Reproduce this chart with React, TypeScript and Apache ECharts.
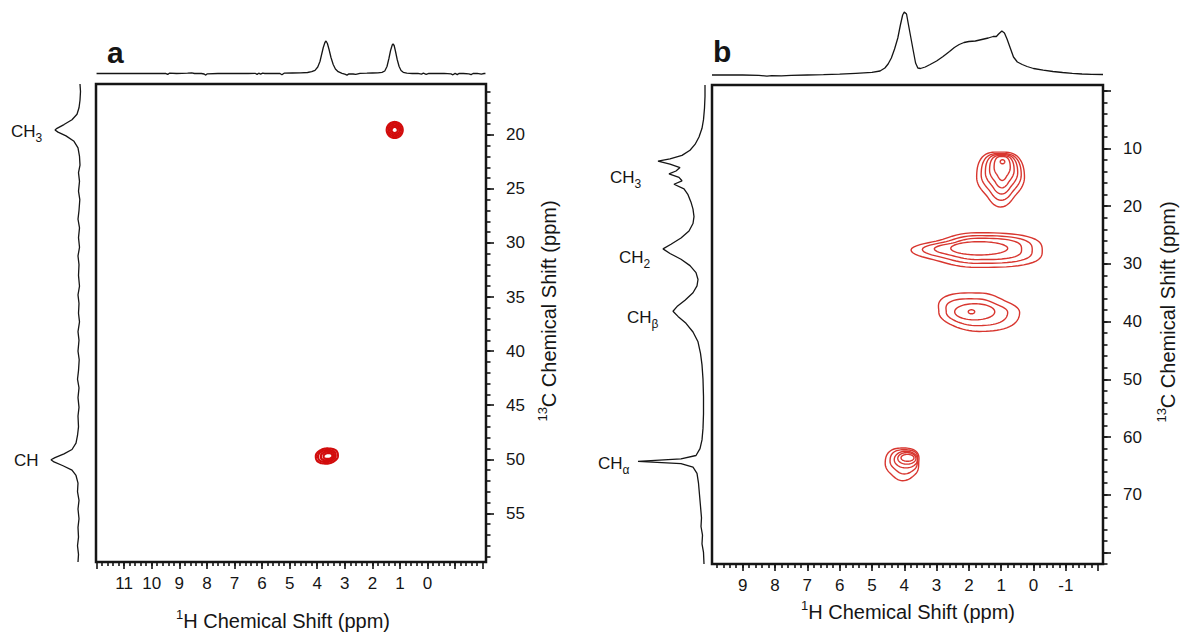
import React, { useEffect, useRef } from "react";
import * as echarts from "echarts";

const FONT = '"Liberation Sans", Arial, Helvetica, sans-serif';
const INK = "#151515";
const RED_A = "#d20c0c";
const RED_B = "#d8362f";

// ---------- Panel a ----------
const xRangeA = { min: -2.12, max: 12.02 };
const yRangeA = { min: 15.3, max: 59.5 };
const xLabelsA = [11, 10, 9, 8, 7, 6, 5, 4, 3, 2, 1, 0];
const yLabelsA = [20, 25, 30, 35, 40, 45, 50, 55];

// top 1H projection: [ppm, intensity]
const topSpecA: number[][] = [
  [12.0, 0], [11.5, 0.2], [11.0, 0], [10.5, 0.2], [10.0, 0], [9.5, 0.2], [9.42, -0.9], [9.36, 0.3], [9.1, 0],
  [8.7, 0.3], [8.55, 0.6], [8.45, 0], [8.2, 0], [8.1, -0.5], [8.05, -1.6], [7.98, -0.3], [7.6, 0], [7.0, 0.1],
  [6.5, 0], [6.25, 0.2], [6.18, -0.9], [6.12, 0.3], [6.05, -0.6], [5.98, 0.3], [5.9, 0], [5.6, 0.2], [5.35, 0],
  [5.28, -1.3], [5.2, 0.3], [4.9, 0.5], [4.6, 0.6], [4.35, 1.0], [4.2, 1.8], [4.08, 3.2], [3.98, 6.5], [3.9, 12],
  [3.84, 19], [3.78, 26], [3.72, 31], [3.68, 32.5], [3.63, 30], [3.57, 24], [3.5, 16], [3.42, 9], [3.34, 4.5],
  [3.24, 1.8], [3.1, 0.2], [3.0, -0.6], [2.92, -1.6], [2.85, -0.4], [2.7, -0.5], [2.6, -0.9], [2.45, 0.1],
  [2.2, 0.3], [2.0, 0.5], [1.8, 0.7], [1.65, 1.2], [1.55, 2.5], [1.47, 7], [1.4, 15], [1.34, 23], [1.28, 28.5],
  [1.25, 29.5], [1.21, 28], [1.16, 22], [1.1, 14], [1.03, 7], [0.96, 3], [0.88, 1.2], [0.75, 0.4], [0.55, 0],
  [0.35, 0.2], [0.22, -0.7], [0.15, 0.3], [0.05, -0.8], [-0.05, 0.2], [-0.3, 0], [-0.6, 0.2], [-0.85, -0.4],
  [-0.92, -1.3], [-1.0, 0.1], [-1.08, -1.1], [-1.15, 0.2], [-1.3, 0], [-1.5, -0.3], [-1.58, -1.1], [-1.65, 0],
  [-1.8, 0.2], [-1.95, -0.6], [-2.05, 0], [-2.1, 0],
];

// left 13C projection: [intensity, ppm]
const leftSpecA: number[][] = [
  [1, 15.3], [0.5, 16.0], [1, 16.8], [2, 17.5], [4, 18.1], [9, 18.6], [17, 19.05], [24, 19.4], [26, 19.55],
  [23, 19.75], [15, 20.1], [7, 20.6], [3, 21.2], [1.5, 22], [1, 22.8], [2.5, 23.5], [1.5, 24.3], [2.5, 25.2],
  [1.2, 26], [2, 27], [3, 27.8], [1.5, 28.6], [2.5, 29.5], [1.5, 30.4], [3, 31.2], [2, 32], [2.5, 33], [1.5, 34],
  [3, 34.8], [2, 35.6], [2.5, 36.5], [1.5, 37.3], [3, 38.2], [2, 39], [3, 40], [1.8, 40.8], [2.5, 41.8],
  [3.5, 42.6], [2, 43.4], [3, 44.3], [2, 45.2], [3, 46], [2.5, 47], [3.5, 47.8], [5, 48.5], [9, 49.1],
  [17, 49.5], [26, 49.85], [30, 50.05], [27, 50.25], [18, 50.6], [9, 51.0], [5, 51.5], [3, 52.2], [3.5, 53],
  [2, 53.8], [3, 54.6], [2, 55.5], [3, 56.3], [2.5, 57.2], [3.5, 58], [2.5, 58.8], [3, 59.5],
];

// contour outline shapes: radius factors at 8 screen directions (right, down-right, down, down-left, left, up-left, up, up-right)
const shapes: number[][] = [
  [1, 1, 1, 1, 1, 1, 1, 1],                       // 0 plain
  [1.0, 0.92, 1.12, 0.9, 1.0, 1.08, 0.95, 1.06],  // 1 b CH3: pointed bottom, broad top
  [1.0, 1.12, 1.0, 0.86, 1.0, 0.8, 1.0, 1.1],     // 2 b CH2: spindle, pointed on the left
  [1.0, 1.06, 1.0, 0.95, 1.0, 1.18, 1.02, 0.88],  // 3 b CHbeta: bump at upper left
  [0.92, 1.0, 1.1, 0.95, 1.0, 1.08, 1.0, 1.1],    // 4 b CHalpha
  [1.0, 0.95, 1.0, 1.1, 1.0, 0.95, 1.0, 1.1],     // 5 a CH: slightly tilted
];

// contour levels: [1H ppm, 13C ppm, half-width 1H, half-width 13C, shape]
const contoursA: number[][] = [
  [1.19, 19.55, 0.29, 0.74, 0], [1.19, 19.55, 0.23, 0.58, 0], [1.19, 19.55, 0.17, 0.43, 0], [1.19, 19.55, 0.11, 0.28, 0],
  [3.65, 49.7, 0.4, 0.7, 5], [3.65, 49.7, 0.32, 0.55, 5], [3.63, 49.7, 0.24, 0.41, 5], [3.61, 49.7, 0.16, 0.27, 5],
];

// ---------- Panel b ----------
const xRangeB = { min: -2.15, max: 9.95 };
const yRangeB = { min: -1, max: 82 };
const xLabelsB = [9, 8, 7, 6, 5, 4, 3, 2, 1, 0, -1];
const yLabelsB = [10, 20, 30, 40, 50, 60, 70];

const topSpecB: number[][] = [
  [9.95, 0], [9.5, 0.2], [9.0, 0], [8.5, -0.3], [8.25, -1.2], [8.1, -0.6], [7.8, -0.8], [7.5, -0.3], [7.0, 0],
  [6.5, 0.3], [6.0, 0.8], [5.5, 1.7], [5.0, 2.6], [4.75, 4], [4.6, 7], [4.5, 11], [4.4, 17], [4.3, 26],
  [4.2, 37], [4.12, 50], [4.05, 60], [4.0, 63], [3.93, 61], [3.88, 52], [3.8, 38], [3.72, 24], [3.65, 12],
  [3.58, 7], [3.5, 6.5], [3.35, 8], [3.2, 10.5], [3.0, 14], [2.8, 18.5], [2.6, 23.5], [2.45, 27.5], [2.3, 30.5],
  [2.15, 32.5], [2.0, 33.5], [1.8, 34], [1.6, 35.5], [1.4, 37], [1.25, 38.5], [1.15, 38.5], [1.08, 41],
  [0.98, 44], [0.9, 42], [0.82, 36], [0.72, 27], [0.62, 18], [0.5, 13], [0.35, 10.5], [0.2, 8.5], [0, 6.5],
  [-0.3, 4.8], [-0.6, 3.5], [-0.9, 2.5], [-1.2, 1.7], [-1.5, 1], [-1.8, 0.6], [-2.15, 0.5],
];

const leftSpecB: number[][] = [
  [1, -1], [1, 1], [1.5, 3], [2.5, 5], [4, 6.5], [7, 8], [11, 9.3], [16, 10.3], [24, 11.2], [36, 11.8],
  [48, 12.2], [36, 12.7], [26, 13.3], [30, 13.9], [37, 14.4], [27, 15.0], [24, 15.6], [32, 16.2], [22, 17],
  [18, 18], [15, 19.3], [13, 20.5], [12, 21.8], [13, 23], [17, 24.3], [25, 25.5], [35, 26.6], [43, 27.4],
  [36, 28.2], [25, 29.2], [16, 30.3], [10, 31.5], [8, 32.7], [9, 33.8], [13, 35], [21, 36.3], [29, 37.4],
  [33, 38.2], [28, 39.1], [20, 40.3], [13, 41.8], [8, 43.5], [5.5, 45.5], [4, 47.5], [3, 50], [2.5, 53],
  [2.5, 56], [3, 58.5], [4, 60.5], [6, 62], [10, 63.2], [25, 63.8], [68, 64.2], [25, 64.6], [13, 65.2],
  [9, 66.3], [7.5, 68], [6.5, 70], [5.5, 72], [4.5, 74], [5, 75.5], [3.5, 77], [4, 78.5], [2.5, 80], [2, 82],
];

const contoursB: number[][] = [
  // CH3
  [1.02, 15.0, 0.74, 4.6, 1], [1.0, 14.6, 0.62, 3.9, 1], [0.99, 14.2, 0.5, 3.3, 1], [0.98, 13.8, 0.38, 2.7, 1],
  [0.97, 13.3, 0.25, 2.0, 1], [0.96, 12.3, 0.07, 0.35, 0],
  // CH2
  [1.76, 27.6, 2.03, 3.0, 2], [1.74, 27.5, 1.7, 2.4, 2], [1.72, 27.4, 1.35, 1.85, 2], [1.68, 27.3, 0.88, 1.15, 0],
  // CH beta
  [1.68, 38.4, 1.25, 3.3, 3], [1.75, 38.4, 0.95, 2.3, 3], [1.82, 38.3, 0.62, 1.4, 0], [1.92, 38.3, 0.1, 0.35, 0],
  // CH alpha
  [4.05, 64.6, 0.54, 2.7, 4], [4.0, 64.2, 0.44, 2.0, 4], [3.95, 63.9, 0.36, 1.45, 0], [3.92, 63.7, 0.28, 1.0, 0],
  [3.9, 63.6, 0.2, 0.6, 0],
];

// ---------- helpers ----------
const steps = (a: number, b: number, s: number) => {
  const out: number[] = [];
  for (let v = a; v <= b + 1e-9; v += s) out.push(Math.round(v * 1000) / 1000);
  return out;
};

const tickLine = { color: INK, width: 1.6 };
const labelStyle = { fontSize: 17, fontFamily: FONT, color: INK };
const noLine = { show: false, onZero: false };

function tickX(gridIndex: number, r: any, ticks: number[], len: number, labels: number[] | null) {
  return {
    type: "value", gridIndex, min: r.min, max: r.max, inverse: true, position: "bottom",
    axisLine: noLine, splitLine: { show: false },
    axisTick: { show: true, customValues: ticks, length: len, lineStyle: tickLine },
    axisLabel: labels
      ? { show: true, customValues: labels, margin: 13, ...labelStyle, formatter: (v: number) => String(v) }
      : { show: false },
  };
}

function tickY(gridIndex: number, r: any, ticks: number[], len: number, labels: number[] | null) {
  return {
    type: "value", gridIndex, min: r.min, max: r.max, inverse: true, position: "right",
    axisLine: noLine, splitLine: { show: false },
    axisTick: { show: true, customValues: ticks, length: len, lineStyle: tickLine },
    axisLabel: labels
      ? { show: true, customValues: labels, margin: 20, ...labelStyle, formatter: (v: number) => String(v) }
      : { show: false },
  };
}

const hidden = (gridIndex: number, min: number, max: number, inverse: boolean) => ({
  type: "value", gridIndex, min, max, inverse, show: false,
  axisLine: noLine, axisTick: { show: false }, axisLabel: { show: false }, splitLine: { show: false },
});

function shapeFactor(shape: number[], t: number) {
  const pos = (t / (Math.PI * 2)) * shape.length;
  const i0 = Math.floor(pos) % shape.length;
  const i1 = (i0 + 1) % shape.length;
  const f = pos - Math.floor(pos);
  const w = (1 - Math.cos(f * Math.PI)) / 2;
  return shape[i0] + (shape[i1] - shape[i0]) * w;
}

function contourSeries(x: number, y: number, data: number[][], color: string, width: number) {
  return {
    type: "custom",
    xAxisIndex: x,
    yAxisIndex: y,
    silent: true,
    data,
    renderItem: (_p: any, api: any) => {
      const cx = api.value(0), cy = api.value(1), rx = api.value(2), ry = api.value(3);
      const shape = shapes[api.value(4)] || shapes[0];
      const pts: number[][] = [];
      for (let k = 0; k < 72; k++) {
        const t = (k / 72) * Math.PI * 2;
        const f = shapeFactor(shape, t);
        // x axis is reversed (ppm), y grows downwards: t=0 points to the screen right
        pts.push(api.coord([cx - rx * f * Math.cos(t), cy + ry * f * Math.sin(t)]));
      }
      return { type: "polygon", shape: { points: pts }, style: { fill: "none", stroke: color, lineWidth: width } };
    },
  };
}

const lineSeries = (x: number, y: number, data: number[][]) => ({
  type: "line", xAxisIndex: x, yAxisIndex: y, data, showSymbol: false, symbol: "none", silent: true,
  lineStyle: { color: INK, width: 1.3 }, clip: false,
});

const subRich = {
  n: { fontSize: 17, fontFamily: FONT, fill: INK, color: INK, lineHeight: 26, verticalAlign: "middle" },
  s: { fontSize: 12, fontFamily: FONT, fill: INK, color: INK, verticalAlign: "bottom" },
};
const supRich = {
  n: { fontSize: 20, fontFamily: FONT, fill: INK, color: INK, lineHeight: 26, verticalAlign: "middle" },
  s: { fontSize: 13, fontFamily: FONT, fill: INK, color: INK, verticalAlign: "top" },
};

const richText = (x: number, y: number, text: string, rich: any, align = "left", rotation = 0) => ({
  type: "text", x, y, rotation, silent: true,
  style: { text, rich, align, verticalAlign: "middle", textAlign: align, textVerticalAlign: "middle", fill: INK, fontFamily: FONT, fontSize: 17 },
});

function buildOption() {
  const gridA = { left: 96, top: 84, width: 390, height: 478 };
  const gridB = { left: 712, top: 85, width: 391, height: 479 };
  const frame = { show: true, borderColor: INK, borderWidth: 2.5, backgroundColor: "transparent" };

  return {
    animation: false,
    backgroundColor: "#fff",
    grid: [
      { ...gridA, ...frame },                          // 0 a main (major ticks)
      { left: 96, width: 390, top: 30, height: 50 },   // 1 a top projection
      { left: 8, width: 76, top: 84, height: 478 },    // 2 a left projection
      { ...gridB, ...frame },                          // 3 b main (major ticks)
      { left: 712, width: 391, top: 8, height: 72 },   // 4 b top projection
      { left: 628, width: 80, top: 85, height: 479 },  // 5 b left projection
      { ...gridA },                                    // 6 a minor ticks
      { ...gridB },                                    // 7 b minor ticks
    ],
    xAxis: [
      tickX(0, xRangeA, steps(-2, 12, 1), 7, xLabelsA),
      hidden(1, xRangeA.min, xRangeA.max, true),
      hidden(2, -3, 73, true),
      tickX(3, xRangeB, steps(-2, 9, 1), 7, xLabelsB),
      hidden(4, xRangeB.min, xRangeB.max, true),
      hidden(5, -2, 78, true),
      tickX(6, xRangeA, steps(-1.8, 11.8, 0.2), 4, null),
      tickX(7, xRangeB, steps(-1.8, 9.8, 0.2), 4, null),
    ],
    yAxis: [
      tickY(0, yRangeA, steps(20, 55, 5), 8, yLabelsA),
      hidden(1, -6.5, 43.5, false),
      hidden(2, yRangeA.min, yRangeA.max, true),
      tickY(3, yRangeB, steps(0, 80, 10), 8, yLabelsB),
      hidden(4, -5, 67, false),
      hidden(5, yRangeB.min, yRangeB.max, true),
      tickY(6, yRangeA, steps(16, 59, 1), 4.5, null),
      tickY(7, yRangeB, steps(0, 82, 2), 4.5, null),
    ],
    series: [
      contourSeries(0, 0, contoursA, RED_A, 2.2),
      lineSeries(1, 1, topSpecA),
      lineSeries(2, 2, leftSpecA),
      contourSeries(3, 3, contoursB, RED_B, 1.4),
      lineSeries(4, 4, topSpecB),
      lineSeries(5, 5, leftSpecB),
    ],
    graphic: [
      { type: "text", x: 107, y: 52, silent: true, style: { text: "a", fontSize: 30, fontWeight: "bold", fontFamily: FONT, fill: INK, align: "left", verticalAlign: "middle" } },
      { type: "text", x: 713, y: 51, silent: true, style: { text: "b", fontSize: 30, fontWeight: "bold", fontFamily: FONT, fill: INK, align: "left", verticalAlign: "middle" } },
      richText(11, 131, "{n|CH}{s|3}", subRich),
      richText(14, 460, "{n|CH}", subRich),
      richText(610, 177, "{n|CH}{s|3}", subRich),
      richText(619, 257, "{n|CH}{s|2}", subRich),
      richText(627, 317, "{n|CH}{s|β}", subRich),
      richText(598, 463, "{n|CH}{s|α}", subRich),
      richText(283, 621, "{s|1}{n|H Chemical Shift (ppm)}", supRich, "center"),
      richText(908, 612, "{s|1}{n|H Chemical Shift (ppm)}", supRich, "center"),
      richText(549, 311, "{s|13}{n|C Chemical Shift (ppm)}", supRich, "center", Math.PI / 2),
      richText(1168, 312, "{s|13}{n|C Chemical Shift (ppm)}", supRich, "center", Math.PI / 2),
    ],
  };
}

export default function App() {
  const ref = useRef<HTMLDivElement>(null);
  useEffect(() => {
    const chart = echarts.init(ref.current as HTMLDivElement, null, { renderer: "svg" });
    chart.setOption(buildOption() as any);
    return () => chart.dispose();
  }, []);
  return (
    <div
      ref={ref}
      style={{ position: "absolute", left: 0, top: 0, width: 1183, height: 634, background: "#fff" }}
    />
  );
}
